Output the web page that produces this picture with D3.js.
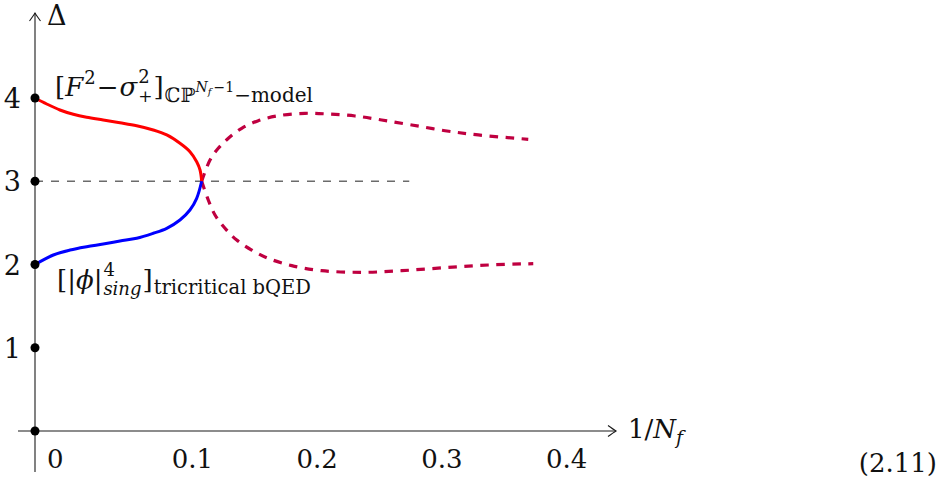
<!DOCTYPE html>
<html>
<head>
<meta charset="utf-8">
<script src="https://cdn.jsdelivr.net/npm/d3@7"></script>
<style>
  html, body { margin: 0; padding: 0; background: #fff; }
  svg { display: block; }
  svg text { font-family: 'DejaVu Serif', serif; fill: #111; }
</style>
</head>
<body>
<svg id="chart" width="952" height="485"></svg>
<script>
// ---- data ----
const xTickValues = [0, 0.1, 0.2, 0.3, 0.4];
const xTickLabels = ["0", "0.1", "0.2", "0.3", "0.4"];
const yTickValues = [1, 2, 3, 4];
const yTickLabels = ["1", "2", "3", "4"];
const dotValues = [0, 1, 2, 3, 4];

// solid branch from Δ=4 (red)
const redX = [0, 0.0094, 0.020, 0.0307, 0.0414, 0.0547, 0.0681, 0.0815, 0.0948, 0.1056, 0.1162, 0.1242, 0.1296, 0.1323, 0.1336];
const redY = [4.0, 3.928, 3.856, 3.804, 3.768, 3.736, 3.703, 3.667, 3.616, 3.556, 3.456, 3.355, 3.235, 3.135, 3.0];
// solid branch from Δ=2 (blue)
const blueX = [0, 0.0147, 0.0281, 0.0414, 0.0547, 0.0681, 0.0815, 0.0948, 0.1056, 0.1162, 0.1242, 0.1296, 0.1336];
const blueY = [2.0, 2.114, 2.174, 2.214, 2.246, 2.282, 2.315, 2.375, 2.435, 2.535, 2.655, 2.795, 3.0];
// dashed upper branch
const upperX = [0.1336, 0.1403, 0.1469, 0.155, 0.1657, 0.179, 0.195, 0.2164, 0.2351, 0.2565, 0.2779, 0.302, 0.3287, 0.3553, 0.3954];
const upperY = [3.0, 3.255, 3.396, 3.516, 3.636, 3.727, 3.787, 3.816, 3.808, 3.784, 3.736, 3.676, 3.607, 3.556, 3.504];
// dashed lower branch
const lowerX = [0.1336, 0.1389, 0.1443, 0.1523, 0.1617, 0.1737, 0.187, 0.2058, 0.2298, 0.2619, 0.2939, 0.3287, 0.3634, 0.3994];
const lowerY = [3.0, 2.775, 2.595, 2.435, 2.294, 2.174, 2.074, 1.986, 1.926, 1.906, 1.926, 1.962, 1.994, 2.01];
// reference line Δ = 3
const refX = [0, 0.3];
const refY = [3, 3];

// ---- scales ----
const svg = d3.select("#chart");
const x = d3.scaleLinear().domain([0, 0.4]).range([35, 534]);
const y = d3.scaleLinear().domain([0, 4]).range([431, 98]);

const zip = (xs, ys) => xs.map((v, i) => [v, ys[i]]);
const line = d3.line().x(d => x(d[0])).y(d => y(d[1])).curve(d3.curveCatmullRom.alpha(0.5));
const straight = d3.line().x(d => x(d[0])).y(d => y(d[1]));

const axisColor = "#1a1a1a";
const x0 = x(0), y0 = y(0);
const xEnd = 616, yTop = 13;

// axes
svg.append("line").attr("x1", 18).attr("x2", xEnd).attr("y1", y0).attr("y2", y0)
  .attr("stroke", axisColor).attr("stroke-width", 1.1);
svg.append("line").attr("x1", x0).attr("x2", x0).attr("y1", 472).attr("y2", yTop)
  .attr("stroke", axisColor).attr("stroke-width", 1.1);
svg.append("path")
  .attr("d", `M${xEnd-8},${y0-5.5} Q${xEnd-2.5},${y0-1.5} ${xEnd},${y0} Q${xEnd-2.5},${y0+1.5} ${xEnd-8},${y0+5.5}`)
  .attr("fill", "none").attr("stroke", axisColor).attr("stroke-width", 1.1);
svg.append("path")
  .attr("d", `M${x0-5.5},${yTop+8} Q${x0-1.5},${yTop+2.5} ${x0},${yTop} Q${x0+1.5},${yTop+2.5} ${x0+5.5},${yTop+8}`)
  .attr("fill", "none").attr("stroke", axisColor).attr("stroke-width", 1.1);

// Δ = 3 reference line
svg.append("path").attr("d", straight(zip(refX, refY)))
  .attr("fill", "none").attr("stroke", "#6b6b6b").attr("stroke-width", 1.4)
  .attr("stroke-dasharray", "8,8");

// curves
svg.append("path").attr("d", line(zip(upperX, upperY)))
  .attr("fill", "none").attr("stroke", "#bf0040").attr("stroke-width", 3.2)
  .attr("stroke-dasharray", "8.5,7.5");
svg.append("path").attr("d", line(zip(lowerX, lowerY)))
  .attr("fill", "none").attr("stroke", "#bf0040").attr("stroke-width", 3.2)
  .attr("stroke-dasharray", "8.5,7.5");
svg.append("path").attr("d", line(zip(redX, redY)))
  .attr("fill", "none").attr("stroke", "#ff0000").attr("stroke-width", 3);
svg.append("path").attr("d", line(zip(blueX, blueY)))
  .attr("fill", "none").attr("stroke", "#0000ff").attr("stroke-width", 3);

// dots on the Δ axis
svg.selectAll("circle.dot").data(dotValues).enter().append("circle")
  .attr("class", "dot").attr("cx", x(0)).attr("cy", d => y(d)).attr("r", 4.5).attr("fill", "#000");

// tick labels
svg.selectAll("text.xt").data(xTickValues).enter().append("text")
  .attr("class", "xt").attr("x", d => x(d) + 12).attr("y", y0 + 37)
  .attr("font-size", 26).text((d, i) => xTickLabels[i]);
svg.selectAll("text.yt").data(yTickValues).enter().append("text")
  .attr("class", "yt").attr("x", x0 - 14).attr("y", d => y(d) + 10)
  .attr("text-anchor", "end").attr("font-size", 27).text((d, i) => yTickLabels[i]);

// axis titles
svg.append("text").attr("x", x0 + 12).attr("y", 25).attr("font-size", 27).text("Δ");
const xt = svg.append("text").attr("x", 628).attr("y", 438).attr("font-size", 26);
xt.append("tspan").text("1/");
xt.append("tspan").attr("font-style", "italic").text("N");
xt.append("tspan").attr("font-style", "italic").attr("font-size", 19).attr("dy", 6).text("f");

// equation number
svg.append("text").attr("x", 937).attr("y", 472).attr("text-anchor", "end").attr("font-size", 26).text("(2.11)");

function add(t, s, o) {
  const ts = t.append("tspan").text(s);
  Object.entries(o || {}).forEach(([k, v]) => ts.attr(k, v));
  return ts;
}

// label at Δ = 4
const L1 = svg.append("text").attr("x", x0 + 20).attr("y", y(4) - 2).attr("font-size", 26);
add(L1, "[");
add(L1, "F", {"font-style": "italic"});
add(L1, "2", {"font-size": 18, dy: -12, dx: 1});
add(L1, "−", {"font-size": 26, dy: 12, dx: 1});
add(L1, "σ", {"font-style": "italic", dx: 1});
add(L1, "2", {"font-size": 18, dy: -13, dx: 1});
add(L1, "+", {"font-size": 17, dy: 19, dx: -11.5});
add(L1, "]", {"font-size": 26, dy: -6, dx: 1});
add(L1, "ℂℙ", {"font-size": 20, dy: 6, dx: 1});
add(L1, "N", {"font-size": 14, "font-style": "italic", dy: -10});
add(L1, "f", {"font-size": 10, "font-style": "italic", dy: 3});
add(L1, "−1", {"font-size": 14, dy: -3, dx: 2});
add(L1, "−model", {"font-size": 20, dy: 10});

// label at Δ = 2
const L2 = svg.append("text").attr("x", x0 + 22).attr("y", y(2) + 24).attr("font-size", 26);
add(L2, "[");
add(L2, "|");
add(L2, "ϕ", {"font-style": "italic"});
add(L2, "|");
add(L2, "4", {"font-size": 18, dy: -13, dx: 1});
add(L2, "sing", {"font-size": 18, "font-style": "italic", dy: 19, dx: -11.5});
add(L2, "]", {"font-size": 26, dy: -6, dx: 1});
add(L2, "tricritical bQED", {"font-size": 19.5, dy: 5, dx: 1});
</script>
</body>
</html>
